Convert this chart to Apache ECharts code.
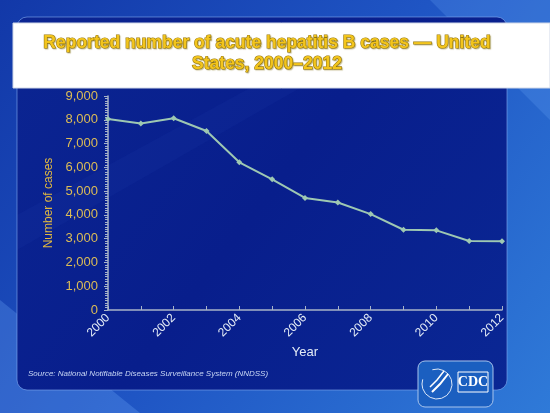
<!DOCTYPE html>
<html><head><meta charset="utf-8">
<script src="https://cdn.jsdelivr.net/npm/echarts@6/dist/echarts.min.js"></script>
<style>html,body{margin:0;padding:0;background:#1a4fb8}#c{width:550px;height:413px}</style>
</head><body><div id="c"></div>
<script>
const years = ['2000','2001','2002','2003','2004','2005','2006','2007','2008','2009','2010','2011','2012'];
const cases = [8036, 7843, 8064, 7526, 6212, 5494, 4713, 4519, 4033, 3374, 3350, 2903, 2895];
const yTicks = [0, 1000, 2000, 3000, 4000, 5000, 6000, 7000, 8000, 9000];
const titleLine1 = 'Reported number of acute hepatitis B cases \u2014 United';
const titleLine2 = 'States, 2000\u20132012';
const sourceText = 'Source: National Notifiable Diseases Surveillance System (NNDSS)';

const titleStyle = (t) => ({text:t, fill:'#f3c51c', font:'bold 17.5px "Liberation Sans"',
  textAlign:'center', textVerticalAlign:'middle', stroke:'#9a7a10', lineWidth:1.2,
  textShadowColor:'rgba(120,100,0,0.35)', textShadowBlur:1, textShadowOffsetX:1, textShadowOffsetY:1});

const chart = echarts.init(document.getElementById('c'));
chart.setOption({
  animation: false,
  graphic: [
    {type:'rect', z:-10, shape:{x:0,y:0,width:550,height:413},
     style:{fill:new echarts.graphic.LinearGradient(0,0,1,1,[
       {offset:0,color:'#1238a8'},{offset:0.5,color:'#1f55c4'},{offset:1,color:'#2f7ad8'}])}},
    {type:'polygon', z:-9, shape:{points:[[0,413],[0,300],[140,413]]}, style:{fill:'rgba(120,180,255,0.25)'}},
    {type:'polygon', z:-9, shape:{points:[[550,0],[430,0],[550,120]]}, style:{fill:'rgba(120,180,255,0.2)'}},
    {type:'rect', z:-8, shape:{x:17,y:17,width:490,height:373,r:10},
     style:{fill:new echarts.graphic.LinearGradient(0,0,1,1,[
       {offset:0,color:'#0b2592'},{offset:0.5,color:'#081e8c'},{offset:1,color:'#0a2794'}]),
       stroke:'rgba(130,170,240,0.6)', lineWidth:1}},
    {type:'polygon', z:-7, shape:{points:[[17,250],[17,215],[250,88],[300,88]]}, style:{fill:'rgba(70,110,220,0.06)'}},
    {type:'rect', z:-5, shape:{x:13,y:23,width:537,height:65}, style:{fill:'#ffffff', stroke:'#d0d8e8', lineWidth:1}},
    {type:'text', z:10, x:267, y:43, style:titleStyle(titleLine1)},
    {type:'text', z:10, x:267, y:64, style:titleStyle(titleLine2)},
    {type:'rect', z:-5, shape:{x:418,y:361,width:75,height:46,r:7},
     style:{fill:'#1b5fc0', stroke:'#a8c4ec', lineWidth:1}},
    {type:'arc', z:-4, shape:{cx:437,cy:384,r:15,startAngle:-Math.PI*0.6,endAngle:Math.PI*1.1},
     style:{stroke:'#dde8f8', lineWidth:1, fill:null}},
    {type:'polyline', z:-4, shape:{points:[[432,392],[440,384],[448,374]]}, style:{stroke:'#ffffff', lineWidth:2, fill:null}},
    {type:'polyline', z:-4, shape:{points:[[430,387],[437,380],[444,371]]}, style:{stroke:'#ffffff', lineWidth:1.5, fill:null}},
    {type:'rect', z:-4, shape:{x:458,y:372,width:30,height:20}, style:{fill:'#1b5fc0', stroke:'#ffffff', lineWidth:1}},
    {type:'text', z:-3, x:473, y:382, style:{text:'CDC', fill:'#ffffff', font:'bold 14px "Liberation Serif"', textAlign:'center', textVerticalAlign:'middle'}},
    {type:'text', x:28, y:374, style:{text:sourceText, fill:'#c8d6f4', font:'italic 8px "Liberation Sans"', textVerticalAlign:'middle'}}
  ],
  grid: {left:108, right:48, top:96, bottom:103, containLabel:false},
  xAxis: {
    type:'category', data: years, boundaryGap:false,
    name:'Year', nameLocation:'middle', nameGap:32,
    nameTextStyle:{color:'#e4ecf6', fontSize:13, fontFamily:'Liberation Sans'},
    axisLine:{lineStyle:{color:'#a8b4c8', width:1.5}},
    axisTick:{show:true, inside:true, length:4, interval:0, lineStyle:{color:'#a8b4c8'}},
    axisLabel:{interval:1, rotate:45, color:'#e4ecf6', fontSize:12, fontFamily:'Liberation Sans', margin:6},
    splitLine:{show:false}
  },
  yAxis: {
    type:'value', min:0, max:9000, interval:1000,
    name:'Number of cases', nameLocation:'middle', nameGap:50, nameRotate:90,
    nameTextStyle:{color:'#e0b840', fontSize:12, fontFamily:'Liberation Sans'},
    axisLine:{show:true, lineStyle:{color:'#a8b4c8', width:1.5}},
    axisTick:{show:true, length:4, lineStyle:{color:'#a8b4c8'}},
    minorTick:{show:true, splitNumber:10, length:3, lineStyle:{color:'#a8b4c8'}},
    axisLabel:{color:'#dcbc56', fontSize:13, fontFamily:'Liberation Sans', margin:10,
      formatter: v => yTicks.includes(v) ? v.toLocaleString('en-US') : ''},
    splitLine:{show:false}
  },
  series: [{
    type:'line', data: cases, symbol:'diamond', symbolSize:6,
    lineStyle:{color:'#9ec8b2', width:2}, itemStyle:{color:'#9ec8b2'}
  }]
});
</script></body></html>
